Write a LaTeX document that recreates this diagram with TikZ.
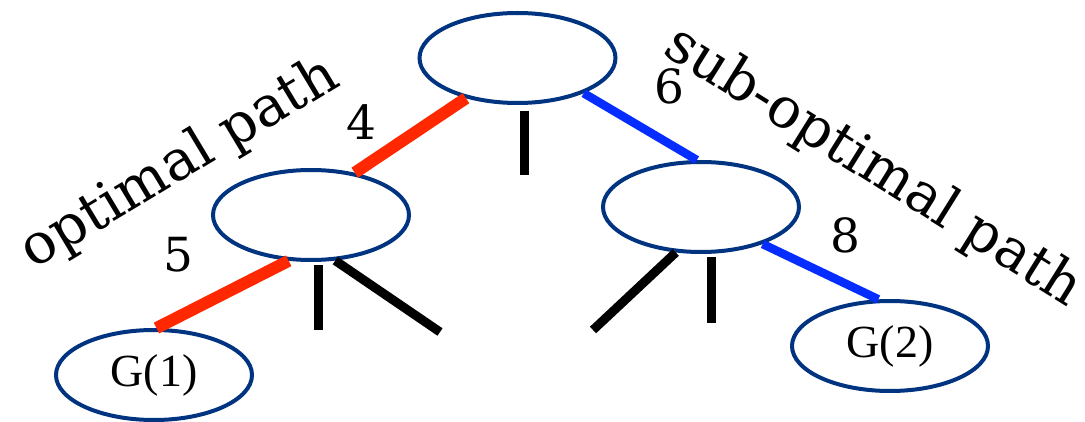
\documentclass[tikz,border=0pt]{standalone}
\usepackage{fontspec}
\setmainfont{DejaVu Serif}
\newfontfamily\gfont{Liberation Serif}
\usetikzlibrary{shapes.geometric}
\definecolor{navy}{RGB}{0,51,128}
\definecolor{pathred}{RGB}{255,40,0}
\definecolor{pathblue}{RGB}{5,45,255}
\tikzset{
  treenode/.style={ellipse, draw=navy, line width=4pt, inner sep=0pt, minimum width=196pt, minimum height=90pt},
  gtext/.style={font=\gfont\fontsize{46}{50}\selectfont},
  redline/.style={pathred, line width=12pt},
  blueline/.style={pathblue, line width=8.5pt},
  stub/.style={black, line width=9pt},
  weight/.style={font=\fontsize{47}{50}\selectfont, inner sep=0pt},
  pathlabel/.style={font=\fontsize{56}{60}\selectfont, inner sep=0pt},
}
\begin{document}
\begin{tikzpicture}[x=1pt, y=-1pt]
\useasboundingbox (0,0) rectangle (1085,422);
\node[treenode] (top) at (517.5,58) {};
\node[treenode] (left) at (311,215) {};
\node[treenode] (right) at (701,207) {};
\node[treenode, gtext] (g1) at (154,375) {G(1)};
\node[treenode, gtext] (g2) at (890,346) {G(2)};

\coordinate (s1) at (524,175);
\coordinate (s2) at (318,330);
\coordinate (s3) at (440,332);
\coordinate (s4) at (593,330);
\coordinate (s5) at (711,323);

\draw[redline] (top.218) -- (left.44);
\draw[redline] (left.244) -- (g1.87);
\draw[blueline] (top.332) -- (right.95);
\draw[blueline] (right.329.5) -- (g2.104);

\draw[stub] ([xshift=6.5pt,yshift=-6pt]top.south) -- (s1);
\draw[stub] ([xshift=7pt,yshift=-3pt]left.south) -- (s2);
\draw[stub] (left.-62) -- (s3);
\draw[stub] (right.241) -- (s4);
\draw[stub] ([xshift=10pt,yshift=-3pt]right.south) -- (s5);

\node[weight] (w4) at (361,122) {4};
\node[weight] (w5) at (178,255) {5};
\node[weight] (w6) at (669,86) {6};
\node[weight] (w8) at (845,235) {8};

\node[pathlabel, rotate=31] (opt) at (180,164) {optimal path};
\node[pathlabel, rotate=-32] (sub) at (873,167) {sub-optimal path};
\end{tikzpicture}
\end{document}
